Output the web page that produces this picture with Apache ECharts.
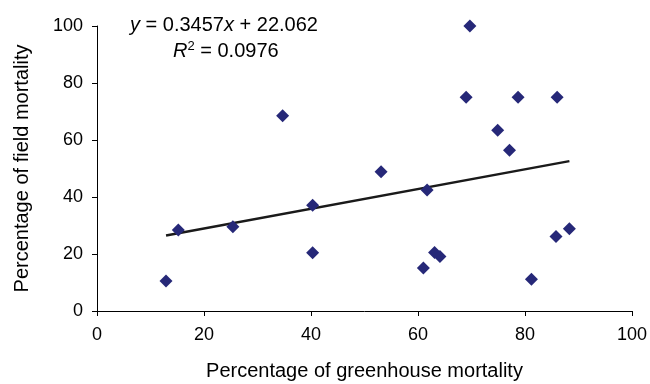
<!DOCTYPE html>
<html>
<head>
<meta charset="utf-8">
<script src="https://cdn.jsdelivr.net/npm/echarts@6/dist/echarts.min.js"></script>
<style>
  html, body { margin: 0; padding: 0; background: #fff; }
  #chart { width: 650px; height: 384px; }
</style>
</head>
<body>
<div id="chart"></div>
<script>
// greenhouse mortality (%) vs field mortality (%)
const greenhouse = [12.9, 15.2, 25.4, 34.7, 40.3, 40.3, 53.1, 61.7, 61.0, 63.1, 64.1, 69.7, 69.0, 74.9, 77.1, 78.7, 81.2, 85.8, 86.0, 88.3]
const field = [10.5, 28.4, 29.6, 68.5, 37.1, 20.4, 48.9, 42.5, 15.1, 20.5, 19.1, 100, 75, 63.4, 56.4, 75, 11.1, 26.1, 75, 28.9]

// linear fit reported on the figure
const slope = 0.3457
const intercept = 22.062

const font = 'Liberation Sans, Arial, sans-serif'
const chart = echarts.init(document.getElementById('chart'))

const xMin = Math.min(...greenhouse)
const xMax = Math.max(...greenhouse)
const fitLine = [xMin, xMax].map((x) => [x, slope * x + intercept])

const axisCommon = {
  min: 0,
  max: 100,
  interval: 20,
  axisLine: { show: true, lineStyle: { color: '#000', width: 1 } },
  axisTick: { show: true, inside: false, length: 5, lineStyle: { color: '#000' } },
  axisLabel: { color: '#000', fontSize: 18, fontFamily: font },
  splitLine: { show: false },
  nameLocation: 'middle',
  nameTextStyle: { color: '#000', fontSize: 20, fontFamily: font }
}

chart.setOption({
  animation: false,
  backgroundColor: '#fff',
  grid: { left: 97, right: 18, top: 26, bottom: 73, outerBoundsMode: 'none' },
  xAxis: {
    ...axisCommon,
    type: 'value',
    name: 'Percentage of greenhouse mortality',
    nameGap: 50,
    axisLabel: { ...axisCommon.axisLabel, margin: 15 }
  },
  yAxis: {
    ...axisCommon,
    type: 'value',
    name: 'Percentage of field mortality',
    nameGap: 65,
    axisLabel: { ...axisCommon.axisLabel, margin: 14 }
  },
  series: [
    {
      type: 'scatter',
      symbol: 'diamond',
      symbolSize: 13,
      itemStyle: { color: '#262878', opacity: 1 },
      data: greenhouse.map((x, i) => [x, field[i]]),
      z: 3
    },
    {
      type: 'line',
      data: fitLine,
      symbol: 'none',
      lineStyle: { color: '#1a1a1a', width: 2.5 },
      z: 2
    }
  ],
  graphic: [
    {
      type: 'text',
      left: 130,
      top: 15,
      style: {
        text: '{i|y} = 0.3457{i|x} + 22.062',
        font: '20px ' + font,
        fill: '#000',
        rich: { i: { fontStyle: 'italic', fontSize: 20, fontFamily: font } }
      }
    },
    {
      type: 'text',
      left: 173,
      top: 40,
      style: {
        text: '{i|R}{s|2} = 0.0976',
        font: '20px ' + font,
        fill: '#000',
        rich: {
          i: { fontStyle: 'italic', fontSize: 20, fontFamily: font },
          s: { fontSize: 13, fontFamily: font, verticalAlign: 'top', padding: [0, 0, 9, 0] }
        }
      }
    }
  ]
})
</script>
</body>
</html>
